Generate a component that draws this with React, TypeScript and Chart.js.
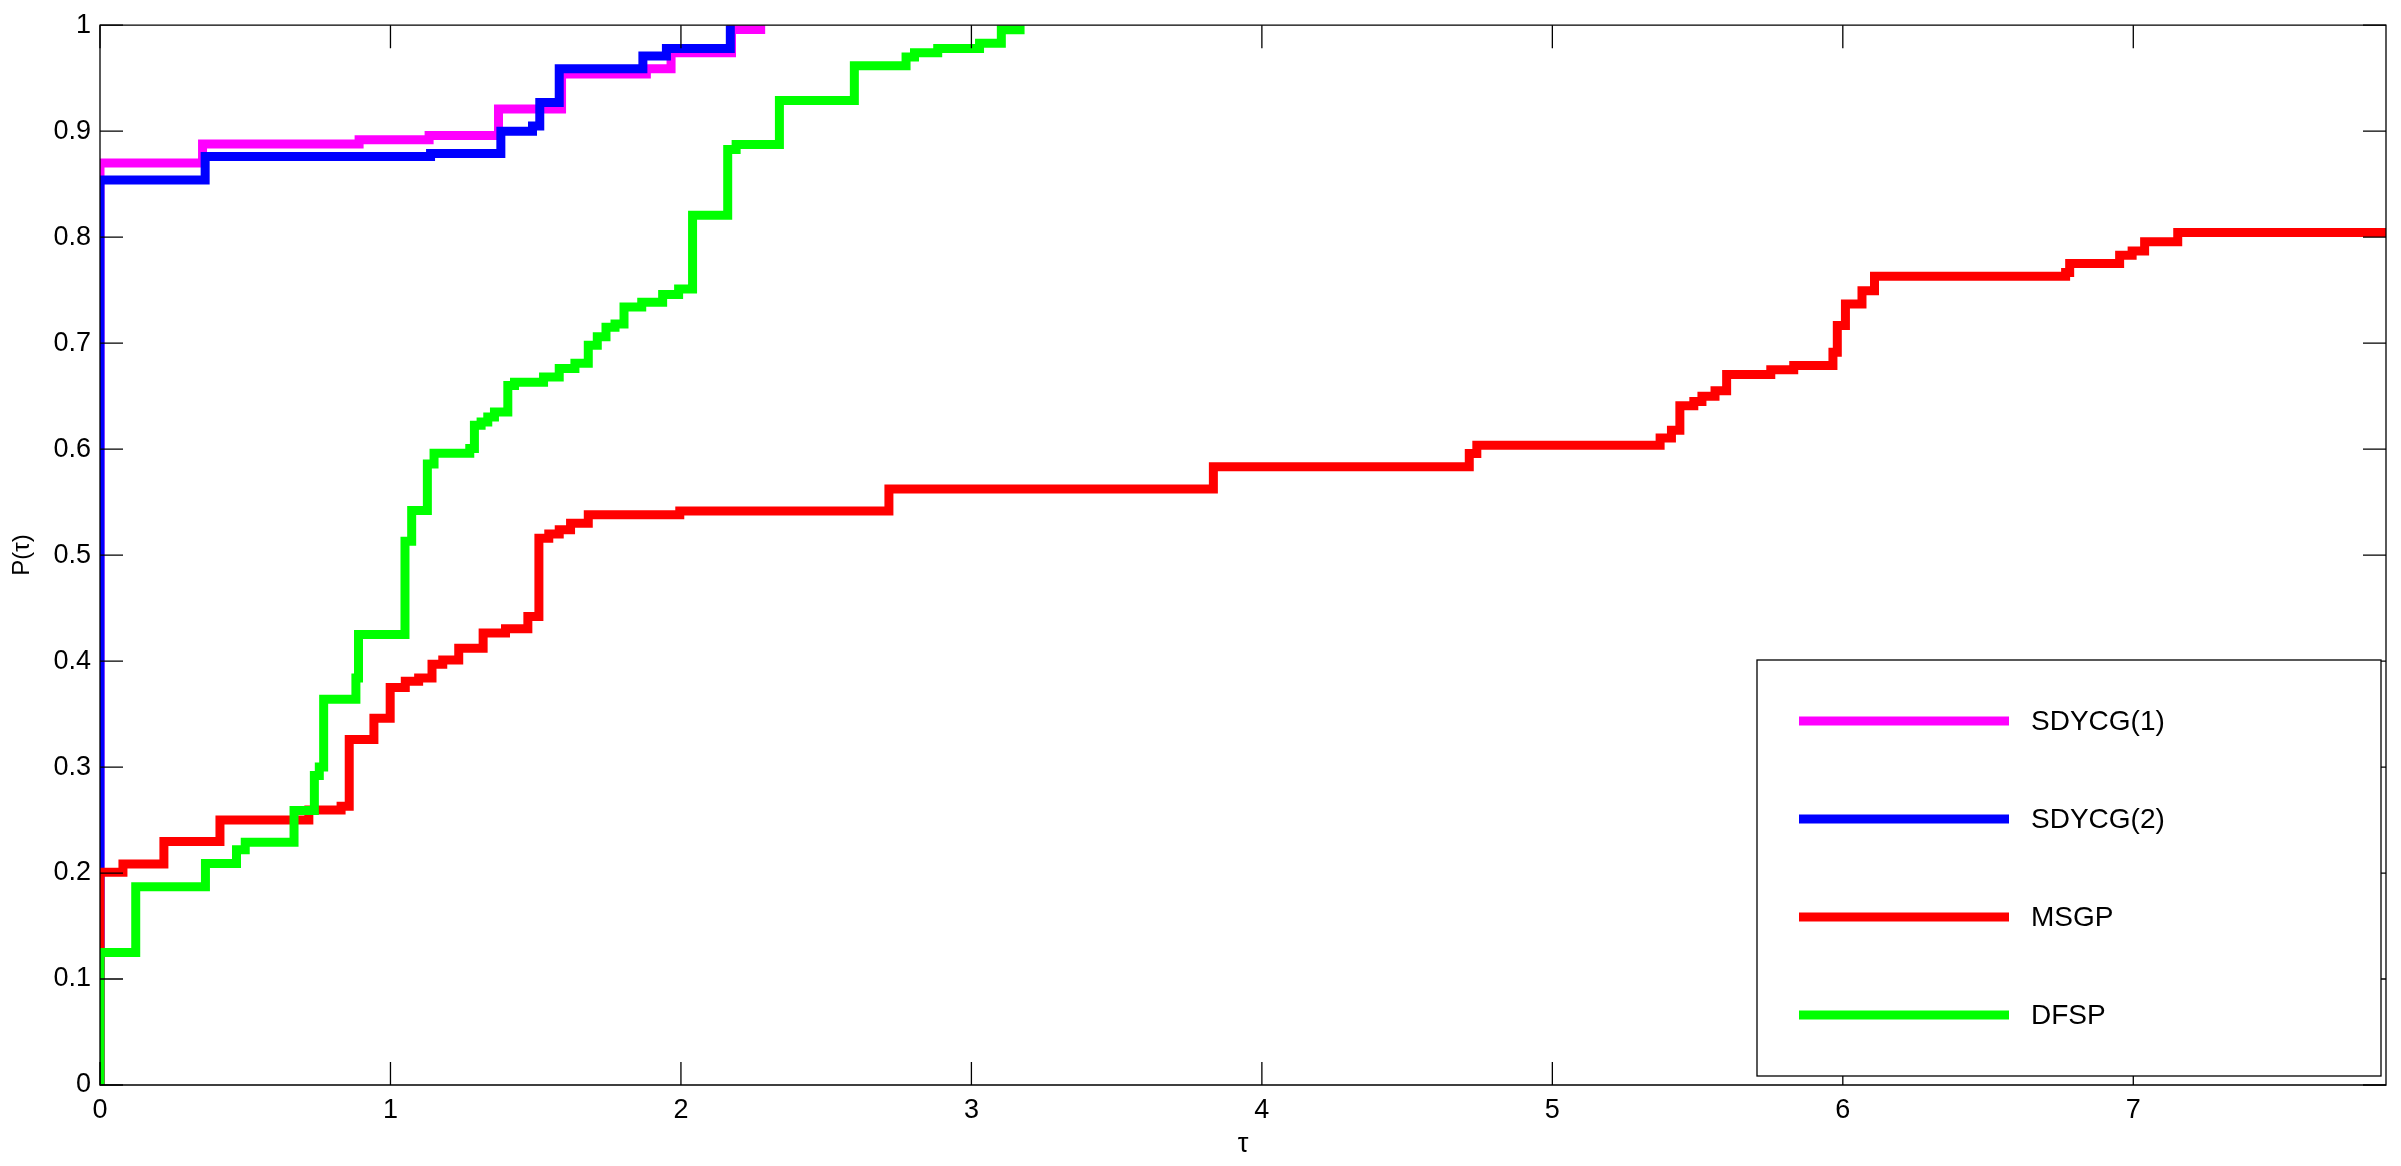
import React, { useEffect, useRef } from 'react';
import { Chart, registerables } from 'chart.js';

Chart.register(...registerables);

// ---------- data ----------
const seriesNames = ['SDYCG(1)', 'SDYCG(2)', 'MSGP', 'DFSP'];
const seriesColors = ['#ff00ff', '#0000ff', '#ff0000', '#00ff00'];

const sdycg1Tau = [0, 0, 0.353, 0.892, 1.133, 1.372, 1.589, 1.881, 1.966, 2.174, 2.29];
const sdycg1P = [0, 0.870, 0.888, 0.892, 0.896, 0.921, 0.954, 0.959, 0.974, 0.996, 0.996];

const sdycg2Tau = [0, 0, 0.362, 1.138, 1.380, 1.489, 1.514, 1.581, 1.869, 1.950, 2.170];
const sdycg2P = [0, 0.854, 0.876, 0.879, 0.900, 0.905, 0.927, 0.959, 0.971, 0.978, 1.0];

const msgpTau = [0, 0, 0.079, 0.220, 0.413, 0.719, 0.830, 0.858, 0.943, 0.999, 1.051, 1.097, 1.143, 1.18,
  1.235, 1.319, 1.396, 1.473, 1.511, 1.545, 1.581, 1.62, 1.681, 1.996, 2.716, 3.833, 4.714, 4.74, 5.371,
  5.410, 5.439, 5.487, 5.515, 5.56, 5.60, 5.752, 5.831, 5.966, 5.981, 6.009, 6.066, 6.109, 6.767, 6.781,
  6.953, 6.996, 7.039, 7.153, 7.87];
const msgpP = [0, 0.2007, 0.2086, 0.2298, 0.250, 0.2594, 0.263, 0.326, 0.346, 0.375, 0.381, 0.384, 0.397,
  0.401, 0.412, 0.4265, 0.4306, 0.442, 0.516, 0.520, 0.524, 0.530, 0.538, 0.5416, 0.5623, 0.5833, 0.5958,
  0.6037, 0.6105, 0.6178, 0.641, 0.645, 0.650, 0.655, 0.6705, 0.675, 0.679, 0.6914, 0.7166, 0.7369, 0.7495,
  0.763, 0.7667, 0.7752, 0.783, 0.787, 0.7956, 0.8043, 0.8043];

const dfspTau = [0, 0, 0.123, 0.363, 0.470, 0.500, 0.668, 0.738, 0.755, 0.770, 0.881, 0.890, 1.050, 1.073,
  1.127, 1.150, 1.273, 1.289, 1.312, 1.335, 1.358, 1.404, 1.427, 1.527, 1.581, 1.635, 1.681, 1.712, 1.742,
  1.773, 1.804, 1.865, 1.937, 1.992, 2.040, 2.161, 2.19, 2.339, 2.597, 2.775, 2.804, 2.884, 3.028, 3.103, 3.183];
const dfspP = [0, 0.125, 0.187, 0.209, 0.222, 0.229, 0.259, 0.292, 0.300, 0.364, 0.384, 0.425, 0.513, 0.542,
  0.586, 0.596, 0.6005, 0.6225, 0.6256, 0.6303, 0.635, 0.660, 0.663, 0.668, 0.676, 0.681, 0.698, 0.706, 0.715,
  0.718, 0.734, 0.7385, 0.746, 0.751, 0.8206, 0.8827, 0.8874, 0.929, 0.9617, 0.970, 0.974, 0.978, 0.983,
  0.9956, 0.9956];

const xTicks = [0, 1, 2, 3, 4, 5, 6, 7];
const yTicks = [0, 0.1, 0.2, 0.3, 0.4, 0.5, 0.6, 0.7, 0.8, 0.9, 1];
const yTickLabels = ['0', '0.1', '0.2', '0.3', '0.4', '0.5', '0.6', '0.7', '0.8', '0.9', '1'];
const X_MIN = 0;
const X_MAX = 7.87;
const xTitle = 'τ';
const yTitle = 'P(τ)';

const seriesTau = [sdycg1Tau, sdycg2Tau, msgpTau, dfspTau];
const seriesP = [sdycg1P, sdycg2P, msgpP, dfspP];

// ---------- styling ----------
const FONT = "'Liberation Sans', Arial, Helvetica, sans-serif";
const W = 2401;
const H = 1166;

const frameTicksPlugin = {
  id: 'frameTicks',
  afterDatasetsDraw(chart: any) {
    const { ctx, chartArea } = chart;
    const { left, right, top, bottom } = chartArea;
    const xs = chart.scales.x;
    const ys = chart.scales.y;
    const TL = 23;
    ctx.save();
    ctx.strokeStyle = '#000';
    ctx.lineWidth = 1.3;
    ctx.beginPath();
    ctx.rect(left, top, right - left, bottom - top);
    ctx.stroke();
    ctx.beginPath();
    xTicks.forEach((v) => {
      const px = xs.getPixelForValue(v);
      ctx.moveTo(px, bottom);
      ctx.lineTo(px, bottom - TL);
      ctx.moveTo(px, top);
      ctx.lineTo(px, top + TL);
    });
    yTicks.forEach((v) => {
      const py = ys.getPixelForValue(v);
      ctx.moveTo(left, py);
      ctx.lineTo(left + TL, py);
      ctx.moveTo(right, py);
      ctx.lineTo(right - TL, py);
    });
    ctx.stroke();
    ctx.restore();
  },
};

const boxLegendPlugin = {
  id: 'boxLegend',
  afterDraw(chart: any) {
    const { ctx } = chart;
    const bx = 1757, by = 660, bw = 624, bh = 416;
    ctx.save();
    ctx.fillStyle = '#fff';
    ctx.fillRect(bx, by, bw, bh);
    ctx.strokeStyle = '#000';
    ctx.lineWidth = 1.3;
    ctx.strokeRect(bx, by, bw, bh);
    const startY = 721;
    const gap = 98;
    chart.data.datasets.forEach((ds: any, i: number) => {
      const y = startY + i * gap;
      ctx.strokeStyle = ds.borderColor;
      ctx.lineWidth = 9;
      ctx.lineCap = 'butt';
      ctx.beginPath();
      ctx.moveTo(bx + 42, y);
      ctx.lineTo(bx + 252, y);
      ctx.stroke();
      ctx.fillStyle = '#000';
      ctx.font = `28px ${FONT}`;
      ctx.textBaseline = 'middle';
      ctx.textAlign = 'left';
      ctx.fillText(ds.label, bx + 274, y + 1);
    });
    ctx.restore();
  },
};

export default function App() {
  const canvasRef = useRef<HTMLCanvasElement | null>(null);

  useEffect(() => {
    document.body.style.margin = '0';
    const canvas = canvasRef.current;
    if (!canvas) return;
    const datasets = seriesNames.map((name, i) => ({
      label: name,
      data: seriesTau[i].map((t, j) => ({ x: t, y: seriesP[i][j] })),
      borderColor: seriesColors[i],
      backgroundColor: seriesColors[i],
      borderWidth: 9,
      pointRadius: 0,
      pointHoverRadius: 0,
      stepped: true,
      fill: false,
      clip: 0,
      borderJoinStyle: 'miter' as const,
      borderCapStyle: 'butt' as const,
      order: seriesNames.length - i,
    }));

    const chart = new Chart(canvas, {
      type: 'line',
      data: { datasets },
      options: {
        animation: false,
        responsive: false,
        devicePixelRatio: 1,
        layout: { padding: { left: 0, right: 15, top: 22, bottom: 0 } },
        plugins: {
          legend: { display: false },
          tooltip: { enabled: false },
        },
        scales: {
          x: {
            type: 'linear',
            min: X_MIN,
            max: X_MAX,
            grid: { display: false, drawTicks: false },
            border: { display: false },
            afterBuildTicks: (scale: any) => {
              scale.ticks = xTicks.map((v) => ({ value: v }));
            },
            afterFit: (scale: any) => {
              scale.height = 81;
            },
            ticks: {
              autoSkip: false,
              maxRotation: 0,
              padding: 9,
              color: '#000',
              font: { family: FONT, size: 27 },
              callback: (v: any) => String(v),
            },
            title: {
              display: true,
              text: xTitle,
              color: '#000',
              font: { family: FONT, size: 27 },
              padding: { top: 0, bottom: 5 },
            },
          },
          y: {
            type: 'linear',
            min: 0,
            max: 1,
            grid: { display: false, drawTicks: false },
            border: { display: false },
            afterBuildTicks: (scale: any) => {
              scale.ticks = yTicks.map((v) => ({ value: v }));
            },
            afterFit: (scale: any) => {
              scale.width = 100;
            },
            ticks: {
              autoSkip: false,
              padding: 9,
              color: '#000',
              font: { family: FONT, size: 27 },
              callback: (v: any) => {
                const idx = yTicks.findIndex((t) => Math.abs(t - Number(v)) < 1e-9);
                return idx >= 0 ? yTickLabels[idx] : '';
              },
            },
            title: {
              display: true,
              text: yTitle,
              color: '#000',
              font: { family: FONT, size: 24 },
              padding: { top: 8, bottom: 0 },
            },
          },
        },
      },
      plugins: [frameTicksPlugin, boxLegendPlugin],
    });
    return () => chart.destroy();
  }, []);

  return (
    <div style={{ position: 'absolute', left: 0, top: 0, width: W, height: H, background: '#fff' }}>
      <canvas ref={canvasRef} width={W} height={H} style={{ display: 'block', width: W, height: H }} />
    </div>
  );
}
